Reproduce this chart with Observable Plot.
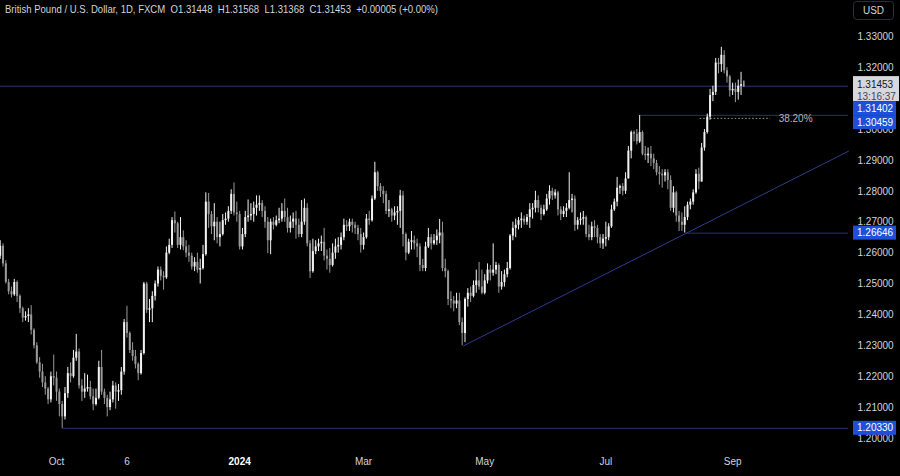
<!DOCTYPE html>
<html><head><meta charset="utf-8">
<script src="https://cdn.jsdelivr.net/npm/d3@7"></script>
<script src="https://cdn.jsdelivr.net/npm/@observablehq/plot@0.6"></script>
<style>
html,body{margin:0;padding:0;background:#000;}
#chart{position:relative;width:900px;height:476px;overflow:hidden;background:#000;}
</style></head><body><div id="chart"></div>
<script>
// ---- DATA (GBP/USD daily, FXCM) bar 0 = 2023-09-04 ----
const opens = [
1.2590,1.2622,1.2565,1.2505,1.2475,1.2465,1.2505,1.2460,1.2420,1.2390,
1.2395,1.2400,1.2350,1.2300,1.2245,1.2215,1.2180,1.2160,1.2125,1.2200,
1.2195,1.2150,1.2110,1.2070,1.2145,1.2210,1.2200,1.2260,1.2280,1.2170,
1.2150,1.2160,1.2165,1.2135,1.2110,1.2130,1.2230,1.2150,1.2130,1.2100,
1.2125,1.2170,1.2150,1.2155,1.2215,1.2375,1.2340,1.2285,1.2265,1.2240,
1.2210,1.2275,1.2500,1.2415,1.2420,1.2460,1.2500,1.2545,1.2525,1.2520,
1.2600,1.2625,1.2705,1.2695,1.2625,1.2650,1.2620,1.2600,1.2590,1.2555,
1.2570,1.2545,1.2550,1.2595,1.2765,1.2725,1.2685,1.2700,1.2650,1.2660,
1.2705,1.2710,1.2735,1.2790,1.2730,1.2725,1.2620,1.2660,1.2715,1.2720,
1.2725,1.2745,1.2755,1.2760,1.2735,1.2700,1.2640,1.2700,1.2690,1.2705,
1.2710,1.2735,1.2715,1.2680,1.2700,1.2710,1.2690,1.2660,1.2700,1.2745,
1.2630,1.2540,1.2605,1.2620,1.2630,1.2635,1.2590,1.2580,1.2560,1.2600,
1.2620,1.2625,1.2650,1.2690,1.2685,1.2700,1.2690,1.2680,1.2660,1.2625,
1.2650,1.2710,1.2705,1.2775,1.2860,1.2815,1.2800,1.2790,1.2735,1.2740,
1.2720,1.2730,1.2735,1.2785,1.2660,1.2600,1.2635,1.2640,1.2630,1.2620,
1.2560,1.2550,1.2620,1.2650,1.2630,1.2640,1.2655,1.2665,1.2550,1.2540,
1.2450,1.2445,1.2435,1.2445,1.2375,1.2340,1.2450,1.2470,1.2460,1.2495,
1.2510,1.2490,1.2470,1.2510,1.2545,1.2535,1.2545,1.2560,1.2490,1.2505,
1.2530,1.2550,1.2655,1.2680,1.2690,1.2705,1.2710,1.2700,1.2715,1.2740,
1.2745,1.2770,1.2745,1.2725,1.2740,1.2775,1.2800,1.2785,1.2795,1.2740,
1.2725,1.2735,1.2745,1.2770,1.2775,1.2690,1.2705,1.2710,1.2715,1.2660,
1.2650,1.2685,1.2680,1.2650,1.2630,1.2645,1.2650,1.2685,1.2740,1.2765,
1.2810,1.2815,1.2800,1.2840,1.2930,1.2990,1.2985,1.2960,1.2990,1.2920,
1.2915,1.2920,1.2905,1.2890,1.2860,1.2855,1.2850,1.2860,1.2835,1.2745,
1.2795,1.2720,1.2700,1.2690,1.2715,1.2755,1.2765,1.2795,1.2855,1.2830,
1.2940,1.2990,1.3040,1.3110,1.3120,1.3215,1.3210,1.3240,1.3190,1.3170,
1.3125,1.3130,1.3120,1.3140,1.31448];
const highs = [
1.2640,1.2630,1.2575,1.2515,1.2490,1.2515,1.2510,1.2465,1.2425,1.2410,
1.2420,1.2430,1.2355,1.2310,1.2262,1.2240,1.2200,1.2165,1.2215,1.2270,
1.2215,1.2160,1.2120,1.2165,1.2230,1.2245,1.2285,1.2337,1.2290,1.2190,
1.2210,1.2205,1.2185,1.2160,1.2160,1.2250,1.2285,1.2160,1.2140,1.2150,
1.2185,1.2180,1.2175,1.2230,1.2385,1.2428,1.2345,1.2310,1.2285,1.2245,
1.2285,1.2505,1.2505,1.2450,1.2475,1.2510,1.2555,1.2555,1.2540,1.2620,
1.2645,1.2715,1.2733,1.2700,1.2715,1.2672,1.2640,1.2625,1.2600,1.2585,
1.2600,1.2580,1.2625,1.2795,1.2793,1.2735,1.2760,1.2715,1.2700,1.2725,
1.2730,1.2750,1.2805,1.2827,1.2765,1.2735,1.2680,1.2735,1.2772,1.2760,
1.2765,1.2785,1.2785,1.2770,1.2750,1.2715,1.2710,1.2715,1.2720,1.2745,
1.2760,1.2775,1.2745,1.2720,1.2730,1.2735,1.2710,1.2770,1.2775,1.2760,
1.2640,1.2645,1.2640,1.2645,1.2655,1.2680,1.2610,1.2615,1.2630,1.2645,
1.2650,1.2665,1.2710,1.2705,1.2710,1.2710,1.2700,1.2690,1.2680,1.2665,
1.2725,1.2735,1.2785,1.2894,1.2865,1.2825,1.2815,1.2800,1.2770,1.2745,
1.2750,1.2750,1.2803,1.2800,1.2665,1.2645,1.2670,1.2655,1.2645,1.2630,
1.2580,1.2635,1.2680,1.2660,1.2660,1.2675,1.2709,1.2700,1.2580,1.2545,
1.2475,1.2460,1.2470,1.2470,1.2390,1.2455,1.2485,1.2490,1.2510,1.2545,
1.2570,1.2545,1.2530,1.2565,1.2560,1.2630,1.2570,1.2565,1.2540,1.2545,
1.2570,1.2660,1.2700,1.2710,1.2715,1.2730,1.2720,1.2725,1.2760,1.2760,
1.2800,1.2785,1.2755,1.2755,1.2790,1.2818,1.2810,1.2805,1.2800,1.2750,
1.2750,1.2760,1.2860,1.2790,1.2785,1.2715,1.2730,1.2735,1.2720,1.2690,
1.2700,1.2705,1.2690,1.2660,1.2660,1.2700,1.2695,1.2755,1.2775,1.2845,
1.2820,1.2825,1.2860,1.2945,1.2995,1.2995,1.3000,1.3045,1.2995,1.2945,
1.2940,1.2945,1.2920,1.2900,1.2880,1.2870,1.2870,1.2870,1.2850,1.2815,
1.2800,1.2735,1.2730,1.2750,1.2765,1.2775,1.2805,1.2870,1.2875,1.2955,
1.3000,1.3050,1.3130,1.3140,1.3230,1.3230,1.3266,1.3255,1.3200,1.3175,
1.3150,1.3150,1.3160,1.3185,1.31568];
const lows = [
1.2580,1.2555,1.2500,1.2465,1.2455,1.2460,1.2440,1.2405,1.2375,1.2380,
1.2375,1.2335,1.2290,1.2240,1.2195,1.2165,1.2140,1.2110,1.2115,1.2170,
1.2120,1.2070,1.2033,1.2060,1.2130,1.2180,1.2195,1.2250,1.2160,1.2120,
1.2130,1.2150,1.2125,1.2090,1.2105,1.2125,1.2140,1.2110,1.2070,1.2090,
1.2115,1.2095,1.2120,1.2140,1.2205,1.2325,1.2275,1.2250,1.2225,1.2187,
1.2205,1.2270,1.2405,1.2375,1.2375,1.2445,1.2490,1.2510,1.2480,1.2515,
1.2595,1.2615,1.2665,1.2615,1.2610,1.2608,1.2585,1.2570,1.2545,1.2540,
1.2535,1.2500,1.2545,1.2590,1.2680,1.2660,1.2640,1.2630,1.2620,1.2655,
1.2690,1.2700,1.2725,1.2720,1.2700,1.2610,1.2610,1.2650,1.2700,1.2705,
1.2700,1.2720,1.2735,1.2715,1.2680,1.2598,1.2595,1.2675,1.2685,1.2695,
1.2700,1.2700,1.2665,1.2665,1.2680,1.2645,1.2650,1.2650,1.2690,1.2620,
1.2518,1.2535,1.2595,1.2605,1.2605,1.2575,1.2545,1.2535,1.2555,1.2580,
1.2600,1.2610,1.2640,1.2670,1.2670,1.2665,1.2660,1.2640,1.2600,1.2610,
1.2645,1.2690,1.2700,1.2770,1.2800,1.2780,1.2760,1.2725,1.2715,1.2700,
1.2705,1.2690,1.2680,1.2620,1.2575,1.2595,1.2610,1.2610,1.2585,1.2540,
1.2540,1.2540,1.2615,1.2610,1.2625,1.2625,1.2630,1.2540,1.2520,1.2430,
1.2420,1.2410,1.2420,1.2365,1.2300,1.2310,1.2425,1.2440,1.2455,1.2470,
1.2480,1.2465,1.2465,1.2500,1.2510,1.2525,1.2530,1.2470,1.2480,1.2490,
1.2520,1.2545,1.2640,1.2650,1.2675,1.2680,1.2690,1.2690,1.2680,1.2710,
1.2730,1.2730,1.2705,1.2720,1.2735,1.2755,1.2770,1.2775,1.2720,1.2705,
1.2715,1.2715,1.2740,1.2730,1.2670,1.2675,1.2690,1.2690,1.2650,1.2640,
1.2640,1.2650,1.2630,1.2615,1.2612,1.2620,1.2640,1.2680,1.2735,1.2750,
1.2790,1.2785,1.2790,1.2840,1.2905,1.2960,1.2950,1.2955,1.2915,1.2900,
1.2890,1.2880,1.2870,1.2850,1.2820,1.2810,1.2830,1.2805,1.2735,1.2730,
1.2700,1.2670,1.2670,1.2665,1.2705,1.2740,1.2755,1.2790,1.2805,1.2830,
1.2930,1.2985,1.3030,1.3090,1.3110,1.3180,1.3185,1.3180,1.3150,1.3105,
1.3110,1.3087,1.3095,1.3110,1.31368];
const closes = [
1.2622,1.2565,1.2505,1.2475,1.2465,1.2505,1.2460,1.2420,1.2390,1.2395,
1.2400,1.2350,1.2300,1.2245,1.2215,1.2180,1.2160,1.2125,1.2200,1.2195,
1.2150,1.2110,1.2070,1.2145,1.2210,1.2200,1.2260,1.2280,1.2170,1.2150,
1.2160,1.2165,1.2135,1.2110,1.2130,1.2230,1.2150,1.2130,1.2100,1.2125,
1.2170,1.2150,1.2155,1.2215,1.2375,1.2340,1.2285,1.2265,1.2240,1.2210,
1.2275,1.2500,1.2415,1.2420,1.2460,1.2500,1.2545,1.2525,1.2520,1.2600,
1.2625,1.2705,1.2695,1.2625,1.2650,1.2620,1.2600,1.2590,1.2555,1.2570,
1.2545,1.2550,1.2595,1.2765,1.2725,1.2685,1.2700,1.2650,1.2660,1.2705,
1.2710,1.2735,1.2790,1.2730,1.2725,1.2620,1.2660,1.2715,1.2720,1.2725,
1.2745,1.2755,1.2760,1.2735,1.2700,1.2640,1.2700,1.2690,1.2705,1.2710,
1.2735,1.2715,1.2680,1.2700,1.2710,1.2690,1.2660,1.2700,1.2745,1.2630,
1.2540,1.2605,1.2620,1.2630,1.2635,1.2590,1.2580,1.2560,1.2600,1.2620,
1.2625,1.2650,1.2690,1.2685,1.2700,1.2690,1.2680,1.2660,1.2625,1.2650,
1.2710,1.2705,1.2775,1.2860,1.2815,1.2800,1.2790,1.2735,1.2740,1.2720,
1.2730,1.2735,1.2785,1.2660,1.2600,1.2635,1.2640,1.2630,1.2620,1.2560,
1.2550,1.2620,1.2650,1.2630,1.2640,1.2655,1.2665,1.2550,1.2540,1.2450,
1.2445,1.2435,1.2445,1.2375,1.2340,1.2450,1.2470,1.2460,1.2495,1.2510,
1.2490,1.2470,1.2510,1.2545,1.2535,1.2545,1.2560,1.2490,1.2505,1.2530,
1.2550,1.2655,1.2680,1.2690,1.2705,1.2710,1.2700,1.2715,1.2740,1.2745,
1.2770,1.2745,1.2725,1.2740,1.2775,1.2800,1.2785,1.2795,1.2740,1.2725,
1.2735,1.2745,1.2770,1.2775,1.2690,1.2705,1.2710,1.2715,1.2660,1.2650,
1.2685,1.2680,1.2650,1.2630,1.2645,1.2650,1.2685,1.2740,1.2765,1.2810,
1.2815,1.2800,1.2840,1.2930,1.2990,1.2985,1.2960,1.2990,1.2920,1.2915,
1.2920,1.2905,1.2890,1.2860,1.2855,1.2850,1.2860,1.2835,1.2745,1.2795,
1.2720,1.2700,1.2690,1.2715,1.2755,1.2765,1.2795,1.2855,1.2830,1.2940,
1.2990,1.3040,1.3110,1.3120,1.3215,1.3210,1.3240,1.3190,1.3170,1.3125,
1.3130,1.3120,1.3140,1.3145,1.31453];

const tickBars = [20, 45, 85, 129, 172, 215, 260];
const tickLabels = ["Oct", "6", "2024", "Mar", "May", "Jul", "Sep"];
// 1.31000 is hidden behind the price labels in the original, so it is not listed
const priceTicks = [1.20,1.21,1.22,1.23,1.24,1.25,1.26,1.27,1.28,1.29,1.30,1.32,1.33];

const levelValues = [1.31402, 1.30459, 1.26646, 1.20330];
const levelStartBars = [0, 227, 243.6, 22];
const trendBars = [164.5, 243.6];
const trendPrices = [1.2300, 1.26646];
const fibValue = 1.3036;
const fibBars = [248.5, 273.5];
const fibLabel = "38.20%";
const lastPrice = 1.31453;
const countdown = "13:16:37";
const headerText = "British Pound / U.S. Dollar, 1D, FXCM  O1.31448  H1.31568  L1.31368  C1.31453  +0.00005 (+0.00%)";
const currencyLabel = "USD";

// ---- STYLE ----
const UP = "#f2f2f2", DOWN = "#9a9a9a", LINE = "#2d3278", TREND = "#2e3a8c";
const TEXT = "#d1d4dc", BLUE = "#1e4fd8";
const FONT = "'Liberation Sans', Arial, sans-serif";
const W = 900, H = 476, MR = 52, MB = 26;
const xDomain = [0.1065, 301.14];
const yDomain = [1.196117, 1.341748];

const bars = closes.map((c, i) => ({i, o: opens[i], h: highs[i], l: lows[i], c}));
const upBars = bars.filter(d => d.c >= d.o);
const downBars = bars.filter(d => d.c < d.o);
const levels = levelValues.map((v, k) => ({v, start: levelStartBars[k]}));
const slope = (trendPrices[1] - trendPrices[0]) / (trendBars[1] - trendBars[0]);
const trend = [
  {x: trendBars[0], y: trendPrices[0]},
  {x: xDomain[1], y: trendPrices[0] + slope * (xDomain[1] - trendBars[0])}
];
const xt = tickBars.map((b, k) => ({b, label: tickLabels[k]}));

const wick = (data, color) => Plot.ruleX(data, {
  x: "i", y1: d => Math.min(d.l, d.o, d.c), y2: d => Math.max(d.h, d.o, d.c),
  stroke: color, strokeWidth: 1
});
const body = (data, color) => Plot.ruleX(data, {
  x: "i", y1: "o", y2: "c", stroke: color, strokeWidth: 2
});

const plot = Plot.plot({
  width: W, height: H,
  marginLeft: 0, marginRight: MR, marginTop: 0, marginBottom: MB,
  style: {background: "#000", color: TEXT, fontFamily: FONT, fontSize: "10px"},
  x: {domain: xDomain, axis: null},
  y: {domain: yDomain, axis: null},
  marks: [
    Plot.axisY({ticks: priceTicks, anchor: "right", tickSize: 0, tickPadding: 9,
      tickFormat: d3.format(".5f"), label: null, fontSize: 10}),
    Plot.ruleY(levels, {y: "v", x1: "start", x2: xDomain[1], stroke: LINE, strokeWidth: 1}),
    Plot.line(trend, {x: "x", y: "y", stroke: TREND, strokeWidth: 1}),
    Plot.ruleY([fibValue], {x1: fibBars[0], x2: fibBars[1], stroke: "#9598a1", strokeDasharray: "1.5,2", strokeWidth: 1}),
    Plot.text([fibLabel], {x: fibBars[1], y: fibValue, text: d => d, dx: 8, textAnchor: "start", fill: "#b2b5be", fontSize: 10}),
    wick(downBars, DOWN), body(downBars, DOWN),
    wick(upBars, UP), body(upBars, UP),
    Plot.text(xt.filter(d => d.label !== "2024"), {x: "b", text: "label", frameAnchor: "bottom", dy: 14, fill: TEXT, fontSize: 10}),
    Plot.text(xt.filter(d => d.label === "2024"), {x: "b", text: "label", frameAnchor: "bottom", dy: 14, fill: "#ffffff", fontWeight: "bold", fontSize: 10})
  ]
});

document.getElementById("chart").appendChild(plot);

// ---- price-axis labels (positioned with the plot's own y scale) ----
const ys = plot.scale("y");
const svg = d3.select(plot);
const g = svg.append("g").attr("font-family", FONT).attr("font-size", 10).attr("text-anchor", "start");

// current price label with countdown
const yLast = ys.apply(lastPrice);
g.append("rect").attr("x", 853).attr("y", yLast - 8).attr("width", 46).attr("height", 25).attr("fill", "#d6d8de");
g.append("text").attr("x", 857).attr("y", yLast).attr("dy", "0.35em").attr("fill", "#131722").text(d3.format(".5f")(lastPrice));
g.append("text").attr("x", 857).attr("y", yLast + 12).attr("dy", "0.35em").attr("fill", "#434651").text(countdown);

// level labels, stacked below the current price label when they overlap
let floor = yLast + 17;
const sorted = levelValues.slice().sort((a, b) => b - a);
for (const v of sorted) {
  let top = ys.apply(v) - 7;
  if (top < floor) top = floor;
  g.append("rect").attr("x", 853).attr("y", top).attr("width", 43).attr("height", 14).attr("fill", BLUE);
  g.append("text").attr("x", 857).attr("y", top + 7).attr("dy", "0.35em").attr("fill", "#ffffff").text(d3.format(".5f")(v));
  floor = top + 14;
}

// currency button
g.append("rect").attr("x", 853.5).attr("y", 1.5).attr("width", 40).attr("height", 18).attr("rx", 3)
  .attr("fill", "#000").attr("stroke", "#2a2e39");
g.append("text").attr("x", 873.5).attr("y", 10.5).attr("dy", "0.35em").attr("text-anchor", "middle")
  .attr("fill", TEXT).text(currencyLabel);

// header
svg.append("text").attr("x", 5).attr("y", 12.5).attr("text-anchor", "start")
  .attr("font-family", FONT).attr("font-size", 11)
  .attr("fill", "#d1d4dc").attr("textLength", 433).attr("lengthAdjust", "spacingAndGlyphs")
  .style("white-space", "pre").text(headerText);
</script>
</body></html>
